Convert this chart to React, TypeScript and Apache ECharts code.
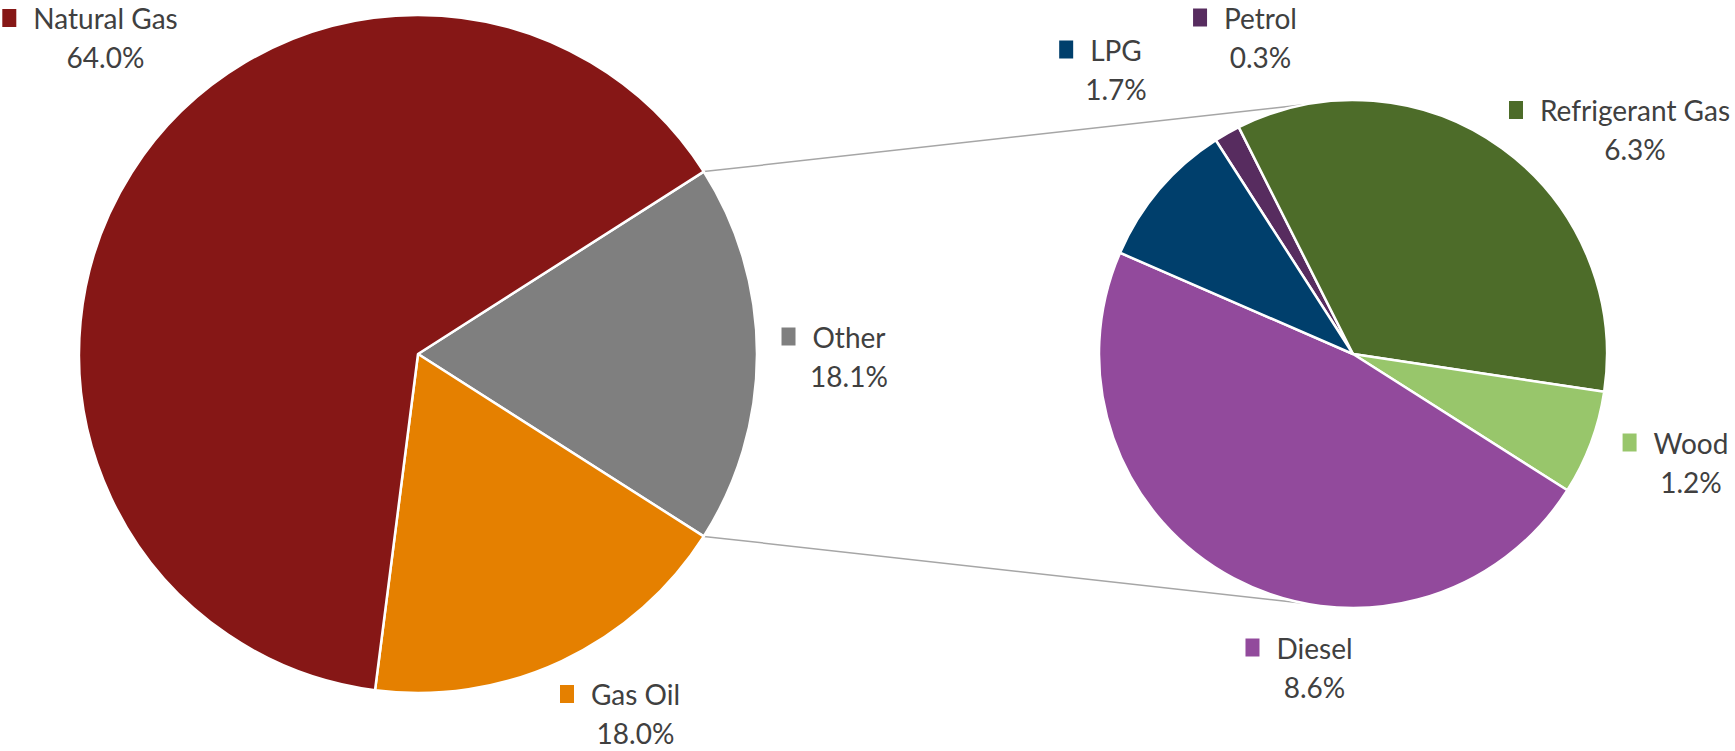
import React, { useEffect, useRef } from 'react';
import * as echarts from 'echarts';

// ---- data ----
const mainNames = ['Other', 'Gas Oil', 'Natural Gas'];
const mainValues = [18.1, 18.0, 64.0];
const mainColors = ['#7F7F7F', '#E58000', '#861716'];

const subNames = ['Petrol', 'Refrigerant Gas', 'Wood', 'Diesel', 'LPG'];
const subValues = [0.3, 6.3, 1.2, 8.6, 1.7];
const subColors = ['#572C5F', '#4D6C29', '#98C66B', '#924A9C', '#003F6C'];

// ---- layout (label anchor = centre x of name text, middle y of name line) ----
const mainLabelPos: number[][] = [[849, 336.5], [635.5, 694], [105.5, 18]];
const subLabelPos: number[][] = [[1260.5, 17.5], [1635, 110], [1691, 442.5], [1314.5, 647.5], [1116, 49.5]];

const MAIN_C = [418, 354];
const MAIN_R = 339;
const SUB_C = [1353, 354];
const SUB_R = 254;
const SUB_START = 122.7;
const CONNECT_ANGLE = 100.7;

const FONT = 'Lato, "Liberation Sans", sans-serif';
const FONT_SIZE = 28;
const LINE_H = 28;
const SPACER_H = 11;
const MARK = 14;
const GAP = 17;
const TEXT_COLOR = '#404040';

function buildItems(names: string[], values: number[], colors: string[]) {
  return names.map((n, i) => ({
    name: n,
    value: values[i],
    itemStyle: { color: colors[i] },
    label: {
      rich: {
        m: { width: MARK, height: MARK, backgroundColor: colors[i], padding: [0, 0, 4, 0] },
        g: { width: GAP },
        s: { fontSize: 1, lineHeight: SPACER_H },
        n: { fontSize: FONT_SIZE, fontFamily: FONT, color: TEXT_COLOR, lineHeight: LINE_H },
        v: { fontSize: FONT_SIZE, fontFamily: FONT, color: TEXT_COLOR, lineHeight: LINE_H, padding: [0, 0, 0, MARK + GAP] },
      },
    },
  }));
}

function labelFormatter(p: any) {
  return '{m|}{g|}{n|' + p.name + '}\n{s| }\n{v|' + Number(p.value).toFixed(1) + '%}';
}

export default function App() {
  const ref = useRef<HTMLDivElement>(null);
  useEffect(() => {
    if (!ref.current) return;
    const chart = echarts.init(ref.current, undefined, { renderer: 'svg' });

    const total = mainValues.reduce((a, b) => a + b, 0);
    const otherAngle = (mainValues[0] / total) * 360;
    const mainStart = otherAngle / 2;
    const h = (mainStart * Math.PI) / 180;
    const ca = (CONNECT_ANGLE * Math.PI) / 180;
    const lt = [MAIN_C[0] + MAIN_R * Math.cos(h), MAIN_C[1] - MAIN_R * Math.sin(h)];
    const lb = [MAIN_C[0] + MAIN_R * Math.cos(h), MAIN_C[1] + MAIN_R * Math.sin(h)];
    const rt = [SUB_C[0] + SUB_R * Math.cos(ca), SUB_C[1] - SUB_R * Math.sin(ca)];
    const rb = [SUB_C[0] + SUB_R * Math.cos(ca), SUB_C[1] + SUB_R * Math.sin(ca)];

    const makeLayout = (pos: number[][]) => (params: any) => {
      const p = pos[params.dataIndex];
      return {
        x: p[0] - (MARK + GAP) / 2,
        y: p[1] - LINE_H / 2,
        align: 'center',
        verticalAlign: 'top',
      };
    };

    const commonLabel = {
      show: true,
      position: 'outside',
      formatter: labelFormatter,
      fontFamily: FONT,
      fontSize: FONT_SIZE,
      color: TEXT_COLOR,
      align: 'center',
    };

    chart.setOption({
      animation: false,
      backgroundColor: '#ffffff',
      graphic: [
        {
          type: 'line',
          z: 0,
          shape: { x1: lt[0], y1: lt[1], x2: rt[0], y2: rt[1] },
          style: { stroke: '#A6A6A6', lineWidth: 1.5 },
        },
        {
          type: 'line',
          z: 0,
          shape: { x1: lb[0], y1: lb[1], x2: rb[0], y2: rb[1] },
          style: { stroke: '#A6A6A6', lineWidth: 1.5 },
        },
      ],
      series: [
        {
          type: 'pie',
          center: MAIN_C,
          radius: MAIN_R,
          startAngle: mainStart,
          clockwise: true,
          avoidLabelOverlap: false,
          itemStyle: { borderColor: '#ffffff', borderWidth: 2.5 },
          label: commonLabel,
          labelLine: { show: false },
          labelLayout: makeLayout(mainLabelPos),
          emphasis: { disabled: true },
          data: buildItems(mainNames, mainValues, mainColors),
        },
        {
          type: 'pie',
          center: SUB_C,
          radius: SUB_R,
          startAngle: SUB_START,
          clockwise: true,
          avoidLabelOverlap: false,
          itemStyle: { borderColor: '#ffffff', borderWidth: 2.5 },
          label: commonLabel,
          labelLine: { show: false },
          labelLayout: makeLayout(subLabelPos),
          emphasis: { disabled: true },
          data: buildItems(subNames, subValues, subColors),
        },
      ],
    });
    return () => chart.dispose();
  }, []);
  return (
    <div
      ref={ref}
      style={{ position: 'absolute', left: 0, top: 0, width: 1735, height: 751 }}
    />
  );
}
